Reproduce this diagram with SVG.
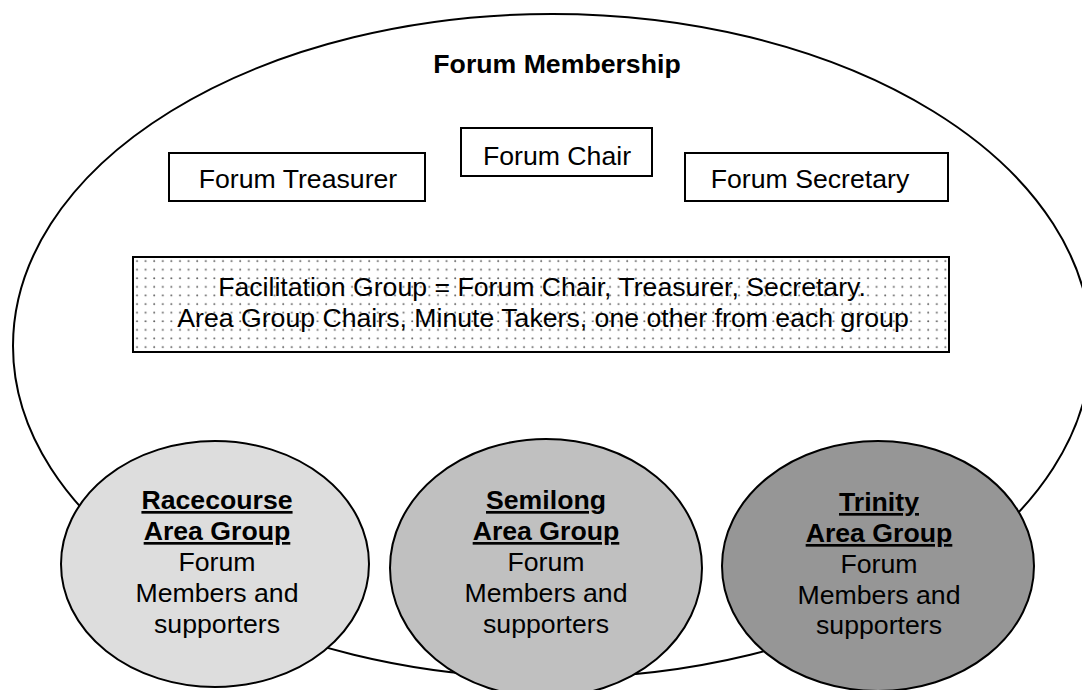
<svg xmlns="http://www.w3.org/2000/svg" width="1082" height="690" viewBox="0 0 1082 690">
  <style>
    text { font-family: "Liberation Sans", Arial, sans-serif; font-size: 26.67px; fill: #000; text-anchor: middle; }
    .bold { font-weight: bold; }
    .ul { font-weight: bold; text-decoration: underline; }
    .box { fill: #fff; stroke: #000; stroke-width: 2; }
    .outline { stroke: #000; stroke-width: 2; }
  </style>
  <defs>
    <pattern id="dots" x="133" y="257" width="8.6" height="8.6" patternUnits="userSpaceOnUse">
      <rect width="8.6" height="8.6" fill="#fff"/>
      <circle cx="4" cy="4" r="1" fill="#666"/>
    </pattern>
  </defs>
  <rect width="1082" height="690" fill="#fff"/>

  <g id="forum-membership">
    <ellipse class="outline" cx="552" cy="346" rx="539" ry="332" fill="#fff"/>
    <text class="bold" x="557" y="73">Forum Membership</text>
  </g>

  <g id="forum-treasurer">
    <rect class="box" x="169" y="153" width="256" height="48"/>
    <text x="298" y="188">Forum Treasurer</text>
  </g>

  <g id="forum-chair">
    <rect class="box" x="461" y="128" width="191" height="48"/>
    <text x="557" y="165">Forum Chair</text>
  </g>

  <g id="forum-secretary">
    <rect class="box" x="685" y="153" width="263" height="48"/>
    <text x="810" y="188">Forum Secretary</text>
  </g>

  <g id="facilitation-group">
    <rect x="133" y="257" width="816" height="95" fill="url(#dots)" stroke="#000" stroke-width="2"/>
    <text x="542" y="296">Facilitation Group = Forum Chair, Treasurer, Secretary.</text>
    <text x="543" y="327">Area Group Chairs, Minute Takers, one other from each group</text>
  </g>

  <g id="racecourse">
    <ellipse class="outline" cx="215" cy="564" rx="154" ry="123" fill="#dddddd"/>
    <text class="ul" x="217" y="509">Racecourse</text>
    <text class="ul" x="217" y="540">Area Group</text>
    <text x="217" y="571">Forum</text>
    <text x="217" y="602">Members and</text>
    <text x="217" y="633">supporters</text>
  </g>

  <g id="semilong">
    <ellipse class="outline" cx="546" cy="568" rx="156" ry="129" fill="#c0c0c0"/>
    <text class="ul" x="546" y="509">Semilong</text>
    <text class="ul" x="546" y="540">Area Group</text>
    <text x="546" y="571">Forum</text>
    <text x="546" y="602">Members and</text>
    <text x="546" y="633">supporters</text>
  </g>

  <g id="trinity">
    <ellipse class="outline" cx="878" cy="566" rx="156" ry="125" fill="#969696"/>
    <text class="ul" x="879" y="511">Trinity</text>
    <text class="ul" x="879" y="542">Area Group</text>
    <text x="879" y="573">Forum</text>
    <text x="879" y="604">Members and</text>
    <text x="879" y="634">supporters</text>
  </g>

  <g id="connectors"/>
</svg>
